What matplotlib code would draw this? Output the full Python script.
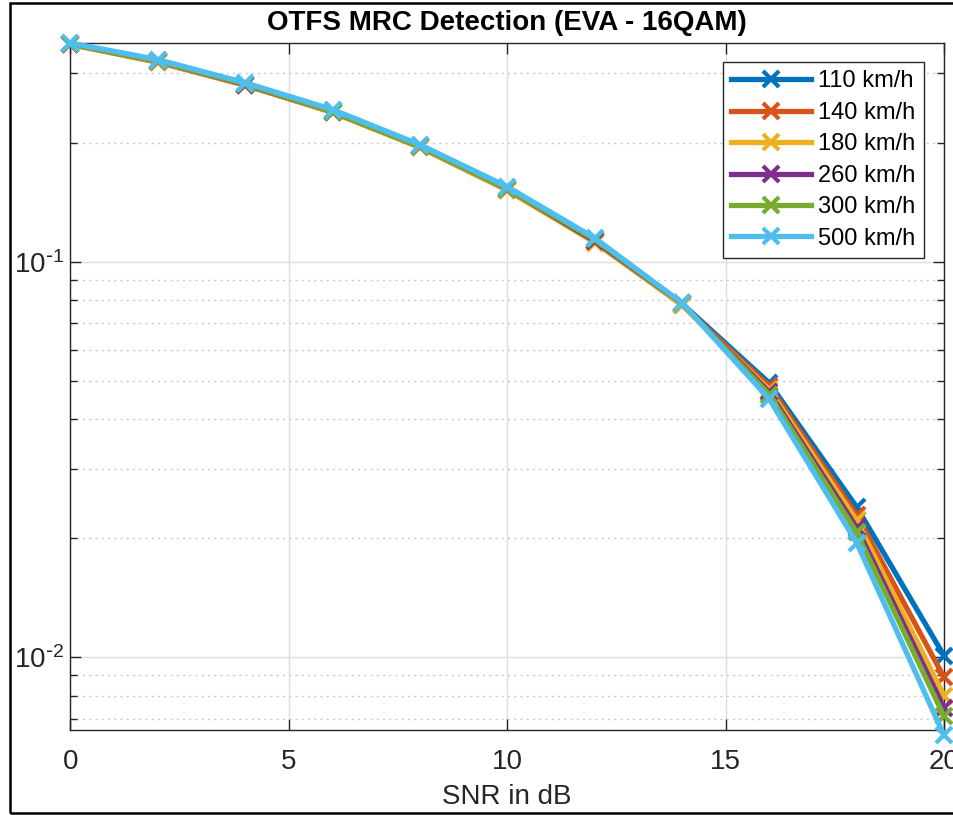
import matplotlib
matplotlib.use("Agg")
import matplotlib.pyplot as plt
from matplotlib.patches import Rectangle
from matplotlib.ticker import LogLocator, NullFormatter, FixedLocator, FuncFormatter
import numpy as np

plt.rcParams['font.family'] = ['Liberation Sans', 'DejaVu Sans']

snr = [0, 2, 4, 6, 8, 10, 12, 14, 16, 18, 20]
speeds = ['110 km/h', '140 km/h', '180 km/h', '260 km/h', '300 km/h', '500 km/h']

ber_110 = [0.356, 0.322, 0.281, 0.240, 0.196, 0.153, 0.113, 0.0785, 0.0494, 0.0240, 0.0101]
ber_140 = [0.355, 0.320, 0.280, 0.239, 0.195, 0.152, 0.113, 0.0780, 0.0485, 0.0229, 0.0089]
ber_180 = [0.355, 0.321, 0.280, 0.239, 0.195, 0.152, 0.112, 0.0778, 0.0475, 0.0222, 0.0080]
ber_260 = [0.356, 0.322, 0.281, 0.240, 0.196, 0.153, 0.113, 0.0786, 0.0468, 0.0213, 0.00746]
ber_300 = [0.356, 0.322, 0.282, 0.240, 0.196, 0.153, 0.114, 0.0787, 0.0462, 0.0207, 0.0071]
ber_500 = [0.358, 0.325, 0.284, 0.243, 0.198, 0.155, 0.115, 0.0788, 0.0450, 0.0195, 0.00635]

colors = ['#0072BD', '#D95319', '#EDB120', '#7E2F8E', '#77AC30', '#4DBEEE']
all_ber = [ber_110, ber_140, ber_180, ber_260, ber_300, ber_500]

fig = plt.figure(figsize=(9.54, 8.15), dpi=100)
ax = fig.add_axes([70.5 / 954, 1 - 730 / 815, (944 - 70.5) / 954, (730 - 43) / 815])

for i, ber in enumerate(all_ber):
    ax.semilogy(snr, ber, '-x', color=colors[i], lw=3.8, ms=12, mew=3.0,
                label=speeds[i], clip_on=False, zorder=3 + i)

ax.set_xlim(0, 20)
ax.set_ylim(0.00655, 0.358)
ax.xaxis.set_major_locator(FixedLocator([0, 5, 10, 15, 20]))
ax.yaxis.set_major_locator(LogLocator(base=10))
# hyphen instead of the wide minus, like matlab
ax.yaxis.set_major_formatter(FuncFormatter(
    lambda v, p: r'$\mathregular{10^{\text{-}%d}}$' % abs(int(round(np.log10(v))))))
ax.yaxis.set_minor_locator(LogLocator(base=10, subs=range(2, 10)))
ax.yaxis.set_minor_formatter(NullFormatter())

# matlab style grid
ax.grid(True, which='major', color='#dedede', lw=1.0, ls='-')
ax.grid(True, which='minor', axis='y', color='#c8c8c8', lw=1.0, ls=(0, (1.5, 3)))
ax.set_axisbelow(True)

ax.tick_params(which='both', direction='in', top=True, right=True, colors='#262626',
               labelsize=20)
ax.tick_params(axis='x', pad=14)
ax.tick_params(axis='y', pad=5)
ax.tick_params(which='major', length=8, width=1)
ax.tick_params(which='minor', length=5, width=1)
for s in ax.spines.values():
    s.set_color('#262626')
    s.set_linewidth(1.0)

ax.set_xlabel('SNR in dB', fontsize=20, color='#262626', labelpad=6)
ax.set_title('OTFS MRC Detection (EVA - 16QAM)', fontsize=20, fontweight='bold', pad=9)

leg = ax.legend(loc='upper right', bbox_to_anchor=(0.977, 0.972), fontsize=17,
                fancybox=False, framealpha=1, edgecolor='#262626',
                handlelength=3.4, handletextpad=0.3, labelspacing=0.4,
                borderpad=0.35, borderaxespad=0)
leg.get_frame().set_linewidth(1.0)

# outer frame of the screenshot
fig.add_artist(Rectangle((10 / 954, 2 / 815), 1.2, 810 / 815, transform=fig.transFigure,
                         fill=False, lw=1.8, color='black'))

fig.savefig('out.png', dpi=100)
